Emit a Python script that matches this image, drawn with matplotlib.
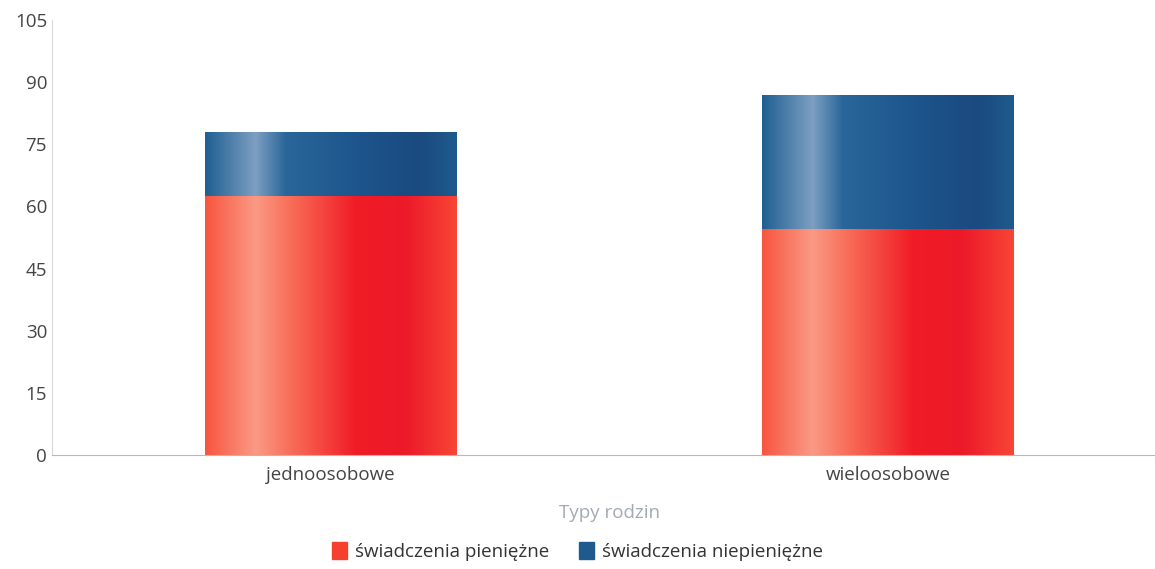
import numpy as np
import matplotlib.pyplot as plt
from matplotlib.colors import LinearSegmentedColormap
from matplotlib.patches import Patch

plt.rcParams['font.family'] = ['Open Sans', 'DejaVu Sans']

categories = ['jednoosobowe', 'wieloosobowe']
pieniezne = [62.5, 54.5]
niepieniezne = [15.3, 32.2]
series_names = ['świadczenia pieniężne', 'świadczenia niepieniężne']
yticks = [0, 15, 30, 45, 60, 75, 90, 105]

# cylinder-like shading across each bar
red_cmap = LinearSegmentedColormap.from_list('r', [
    (0.0, '#f8553f'), (0.2, '#fa9a85'), (0.35, '#f86a55'),
    (0.6, '#f01c26'), (0.8, '#ec1a2a'), (1.0, '#f84535')])
blue_cmap = LinearSegmentedColormap.from_list('b', [
    (0.0, '#1f5f92'), (0.2, '#7d9fc2'), (0.32, '#2a6699'),
    (0.6, '#1d558c'), (0.85, '#1a4a80'), (1.0, '#1f5a8c')])
grad = np.linspace(0, 1, 256).reshape(1, -1)

fig, ax = plt.subplots(figsize=(11.55, 5.69), dpi=100)
fig.subplots_adjust(left=0.045, right=1.0104, top=0.965, bottom=0.2)

x = np.arange(len(categories))
w = 0.452
b1 = ax.bar(x, pieniezne, width=w, color='none')
b2 = ax.bar(x, niepieniezne, width=w, bottom=pieniezne, color='none')

for bars, cmap in ((b1, red_cmap), (b2, blue_cmap)):
    for p in bars:
        x0, y0 = p.get_x(), p.get_y()
        ax.imshow(grad, cmap=cmap, aspect='auto', interpolation='bicubic',
                  extent=(x0, x0 + p.get_width(), y0, y0 + p.get_height()),
                  zorder=2)

ax.set_xlim(-0.5, 1.5)
ax.set_ylim(0, 105)
ax.set_yticks(yticks)
ax.set_xticks(x)
ax.set_xticklabels(categories)
ax.tick_params(axis='both', length=0, labelsize=13.5, colors='#444444')
ax.tick_params(axis='x', pad=8)
ax.set_xlabel('Typy rodzin', fontsize=13.5, color='#a3aab2', labelpad=14)

for s in ['top', 'right']:
    ax.spines[s].set_visible(False)
ax.spines['left'].set_color('#d8d8d8')
ax.spines['bottom'].set_color('#b8b8b8')

handles = [Patch(color='#f5402f'), Patch(color='#1f5a8e')]
fig.legend(handles, series_names, loc='lower center', ncol=2,
           bbox_to_anchor=(0.5, -0.015), frameon=False, fontsize=13.5,
           handlelength=0.8, handleheight=1.0, handletextpad=0.4,
           columnspacing=1.6, labelcolor='#333333')

fig.savefig('out.png', dpi=100)
